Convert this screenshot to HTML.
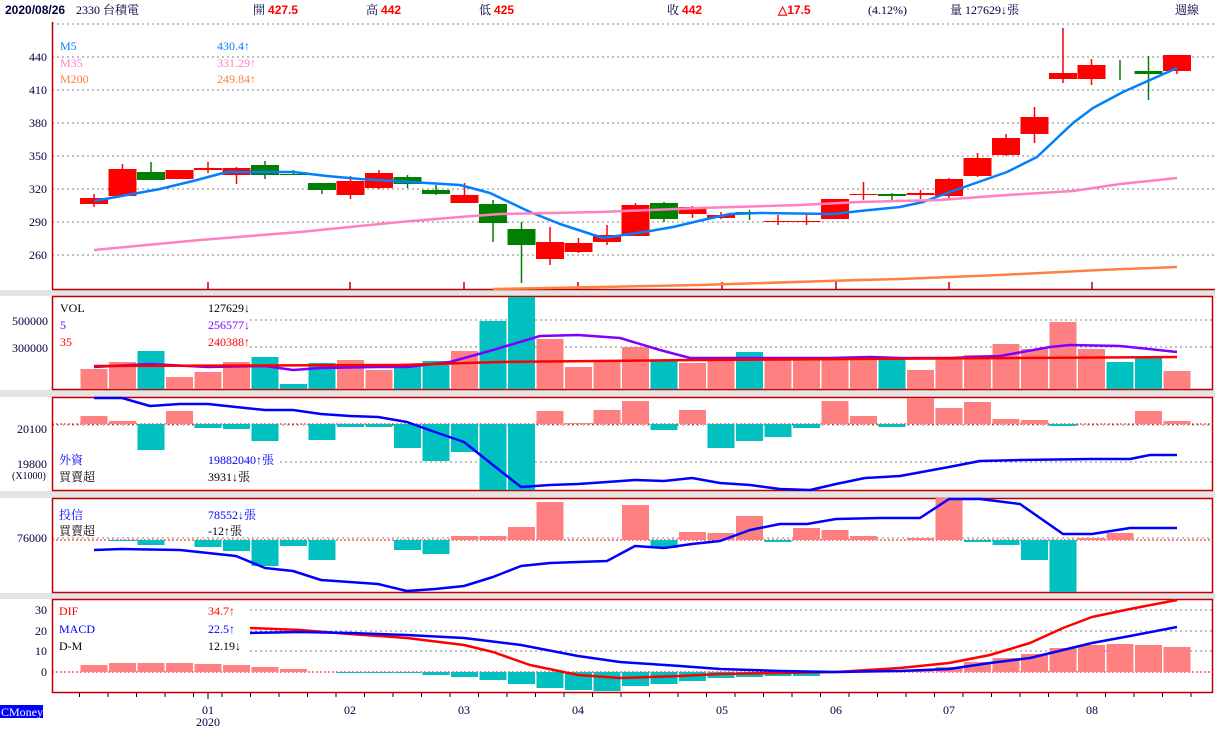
<!DOCTYPE html>
<html><head><meta charset="utf-8"><style>
html,body{margin:0;padding:0;background:#fff;}
svg{display:block;font-family:"Liberation Serif","Noto Serif CJK SC","Noto Sans CJK TC",serif;}
.t{font-size:12px;}
</style></head><body>
<svg id="s" width="1215" height="730" viewBox="0 0 1215 730" xmlns="http://www.w3.org/2000/svg">
<rect width="1215" height="730" fill="#fff"/>
<g id="bg"></g>
<g id="g"></g>
<g class="t">
<text x="5" y="14" font-weight="bold" fill="#000040" font-family="Liberation Sans, sans-serif">2020/08/26</text>
<text x="76" y="14" fill="#000040">2330 台積電</text>
<text x="253" y="14" fill="#000040">開 <tspan fill="#f00" font-weight="bold" font-family="Liberation Sans,sans-serif">427.5</tspan></text>
<text x="366" y="14" fill="#000040">高 <tspan fill="#f00" font-weight="bold" font-family="Liberation Sans,sans-serif">442</tspan></text>
<text x="479" y="14" fill="#000040">低 <tspan fill="#f00" font-weight="bold" font-family="Liberation Sans,sans-serif">425</tspan></text>
<text x="667" y="14" fill="#000040">收 <tspan fill="#f00" font-weight="bold" font-family="Liberation Sans,sans-serif">442</tspan></text>
<text x="778" y="14" fill="#f00" font-weight="bold" font-family="Liberation Sans,sans-serif">△17.5</text>
<text x="868" y="14" fill="#000040">(4.12%)</text>
<text x="950" y="14" fill="#000040">量 127629↓張</text>
<text x="1175" y="14" fill="#000040">週線</text>

<g text-anchor="end" fill="#000040">
<text x="47" y="61">440</text><text x="47" y="94">410</text><text x="47" y="127">380</text><text x="47" y="160">350</text><text x="47" y="193">320</text><text x="47" y="226">290</text><text x="47" y="259">260</text>
<text x="48" y="325">500000</text><text x="48" y="352">300000</text>
<text x="47" y="433">20100</text><text x="47" y="468">19800</text>
<text x="47" y="542">76000</text>
<text x="47" y="614">30</text><text x="47" y="635">20</text><text x="47" y="655">10</text><text x="47" y="676">0</text>
</g>
<text x="12" y="479" font-size="10" fill="#000040">(X1000)</text>

<text x="60" y="50" fill="#0080ff">M5</text><text x="217" y="50" fill="#0080ff">430.4↑</text>
<text x="60" y="67" fill="#ff80c0">M35</text><text x="217" y="67" fill="#ff80c0">331.29↑</text>
<text x="60" y="83" fill="#ff8040">M200</text><text x="217" y="83" fill="#ff8040">249.84↑</text>

<text x="60" y="312" fill="#000">VOL</text><text x="208" y="312" fill="#000">127629↓</text>
<text x="60" y="329" fill="#8000ff">5</text><text x="208" y="329" fill="#8000ff">256577↓</text>
<text x="60" y="346" fill="#f00">35</text><text x="208" y="346" fill="#f00">240388↑</text>

<text x="59" y="464" fill="#00f">外資</text><text x="208" y="464" fill="#00f">19882040↑張</text>
<text x="59" y="481" fill="#000">買賣超</text><text x="208" y="481" fill="#000">3931↓張</text>

<text x="59" y="519" fill="#00f">投信</text><text x="208" y="519" fill="#00f">78552↓張</text>
<text x="59" y="535" fill="#000">買賣超</text><text x="208" y="535" fill="#000">-12↑張</text>

<text x="59" y="615" fill="#f00">DIF</text><text x="208" y="615" fill="#f00">34.7↑</text>
<text x="59" y="633" fill="#00f">MACD</text><text x="208" y="633" fill="#00f">22.5↑</text>
<text x="59" y="650" fill="#000">D-M</text><text x="208" y="650" fill="#000">12.19↓</text>

<rect x="0" y="705" width="43" height="13" fill="#00f"/>
<text x="1" y="716" fill="#fff">CMoney</text>
<g text-anchor="middle" fill="#000040">
<text x="208" y="714">01</text><text x="208" y="726">2020</text>
<text x="350" y="714">02</text><text x="464" y="714">03</text><text x="578" y="714">04</text>
<text x="722" y="714">05</text><text x="836" y="714">06</text><text x="949" y="714">07</text><text x="1092" y="714">08</text>
</g>
</g>
</svg>
<script>
const NS="http://www.w3.org/2000/svg";
const G=document.getElementById('g'),B=document.getElementById('bg');
function el(p,t,a){const e=document.createElementNS(NS,t);for(const k in a)e.setAttribute(k,a[k]);p.appendChild(e);return e;}
function line(p,x1,y1,x2,y2,c,w,d){const a={x1,y1,x2,y2,stroke:c,'stroke-width':w||1};if(d)a['stroke-dasharray']=d;el(p,'line',a);}
function rect(p,x,y,w,h,c){el(p,'rect',{x,y,width:w,height:Math.max(h,1),fill:c});}
function poly(pts,c,w){el(G,'polyline',{points:pts.map(p=>p.join(',')).join(' '),fill:'none',stroke:c,'stroke-width':w||2.5,'stroke-linejoin':'round'});}
// separators
[[290,6],[390,7],[491,7],[593,6]].forEach(([y,h])=>rect(B,0,y,1215,h,'#e4e4e4'));
// grids
[24,57,90,123,156,189,222,255].forEach(y=>line(B,52,y,1215,y,'#808080',1,'2,3'));
[320,347].forEach(y=>line(B,250,y,1213,y,'#808080',1,'2,3'));
line(B,52,425,1213,425,'#808080',1,'2,3');line(B,280,462,1213,462,'#808080',1,'2,3');
line(B,52,538,1213,538,'#808080',1,'2,3');
[610,631,651].forEach(y=>line(B,250,y,1213,y,'#808080',1,'2,3'));
// borders
line(B,52.5,22,52.5,289,'#c00000',1.5);line(B,52,289.5,1215,289.5,'#c00000',1.5);
[[296,389],[397,490],[498,592],[599,692]].forEach(([a,b])=>el(B,'rect',{x:52.5,y:a+.5,width:1160,height:b-a,fill:'none',stroke:'#c00000','stroke-width':1.5}));
[208,350,464,578,722,836,949,1092].forEach(x=>line(B,x,282,x,289,'#c00000',1.5));
for(let i=-1;i<40;i++){const x=94+28.5*i+14;if(x>60&&x<1210)line(B,x,693,x,697,'#000040',1);}
line(B,208,693,208,699,'#000040',1);
const X=i=>94+28.5*i;
// candles [top,bot,wt,wb,c]
const C=[[198,204,194,207,'r'],[169,196,164,196,'r'],[172,180,162,180,'g'],[170,179,170,179,'r'],[168,170,162,173,'r'],[168,175,167,184,'r'],[165,175,161,179,'g'],[174,175,170,175,'g'],[183,190,183,194,'g'],[181,195,176,199,'r'],[173,188,170,189,'r'],[177,184,175,188,'g'],[190,194,185,195,'g'],[195,203,183,203,'r'],[204,223,200,242,'g'],[229,245,222,283,'g'],[242,259,227,265,'r'],[243,252,238,253,'r'],[235,242,225,245,'r'],[205,236,203,236,'r'],[203,219,202,222,'g'],[207,214,206,218,'r'],[215,218,212,219,'r'],[212,213,210,220,'g'],[221,222,215,225,'r'],[221,222,215,225,'r'],[199,219,199,219,'r'],[194,195,182,200,'r'],[194,196,193,200,'g'],[193,195,190,199,'r'],[179,196,178,200,'r'],[158,176,153,177,'r'],[138,155,134,156,'r'],[117,134,107,143,'r'],[73,79,28,83,'r'],[65,79,59,85,'r'],[60,61,60,80,'n'],[71,74,56,100,'g'],[55,71,55,74,'r']];
C.forEach((c,i)=>{const x=X(i),col=c[4]=='g'?'#008000':'#ff0000';
 line(G,x,c[2],x,c[3],c[4]=='n'?'#008000':col,1.5);
 if(c[4]!='n')rect(G,x-14,c[0],28,c[1]-c[0],col);});
poly([[94,201],[127,195],[160,189],[193,181],[227,172],[260,172],[293,172],[327,176],[360,179],[393,181],[427,183],[460,185],[490,193],[530,212],[560,224],[603,238],[650,231],[673,227],[707,219],[730,214],[760,213],[833,214],[860,211],[900,207],[923,202],[950,192],[1007,172],[1037,157],[1073,123],[1093,108],[1123,92],[1150,80],[1177,68]],'#0080ff');
poly([[94,250],[200,240],[300,232],[400,222],[460,217],[500,214],[600,212],[700,208],[800,205],[860,202],[940,200],[1007,195],[1073,191],[1120,184],[1177,178]],'#ff80c0');
poly([[493,289],[600,287],[700,285],[860,280],[900,279],[1000,275],[1100,270],[1177,267]],'#ff8040');
// volume
const V=[369,362,351,377,372,362,357,384,363,360,370,364,361,351,321,297,339,367,362,347,361,363,360,352,360,360,360,359,359,370,357,355,344,349,322,349,362,357,371];
V.forEach((t,i)=>rect(G,X(i)-13.5,t,27,389-t,C[i][4]=='g'||C[i][4]=='n'?'#00c0c0':'#ff8080'));
poly([[94,367],[150,364],[208,367],[265,366],[293,370],[321,368],[378,367],[407,367],[450,362],[493,350],[540,336],[578,335],[620,338],[660,350],[690,358],[750,358],[830,358],[870,357],[900,358],[950,358],[1000,356],[1050,347],[1070,345],[1120,346],[1177,352]],'#8000ff');
poly([[94,366],[400,365],[500,362],[700,360],[1177,357]],'#ff0000');
// foreign
line(G,52,424,1213,424,'#ff0000',1,'2,2');
const F=[416,421,450,411,428,429,441,424,440,427,427,448,461,452,490,490,411,423,410,401,430,410,448,441,437,428,401,416,427,398,408,402,419,420,426,424,424,411,421];
F.forEach((t,i)=>{if(t<424)rect(G,X(i)-13.5,t,27,424-t,'#ff8080');else if(t>424)rect(G,X(i)-13.5,424,27,t-424,'#00c0c0');});
poly([[94,398],[122,398],[150,406],[180,404],[208,404],[236,407],[265,410],[293,410],[321,414],[350,416],[378,417],[407,422],[435,432],[464,442],[493,465],[521,487],[550,485],[578,484],[607,482],[635,480],[664,481],[692,478],[720,483],[750,485],[780,489],[810,490],[836,484],[865,478],[900,476],[949,467],[980,461],[1020,460],[1092,459],[1130,459],[1150,455],[1177,455]],'#0000ff');
// trust
line(G,52,540,1213,540,'#ff0000',1,'2,2');
const T=[540,541,545,540,547,551,566,546,560,540,540,550,554,536,536,527,502,540,540,505,548,532,533,516,542,528,530,536,540,538,498,542,545,560,592,538,533,540,540];
T.forEach((t,i)=>{if(t<540)rect(G,X(i)-13.5,t,27,540-t,'#ff8080');else if(t>540)rect(G,X(i)-13.5,540,27,t-540,'#00c0c0');});
poly([[94,550],[122,549],[180,550],[236,556],[265,568],[293,571],[321,580],[378,584],[407,591],[435,589],[464,586],[493,577],[521,566],[550,563],[578,562],[607,561],[635,546],[664,548],[692,544],[720,541],[750,530],[780,524],[807,524],[836,519],[880,518],[920,518],[949,499],[980,499],[1020,504],[1063,534],[1092,534],[1130,528],[1177,528]],'#0000ff');
// macd
line(G,52,672,1213,672,'#ff0000',1,'2,2');
const M=[665,663,663,663,664,665,667,669,672,673,673,673,675,677,680,684,688,690,691,686,684,681,678,677,676,676,673,672,671,670,667,662,658,654,648,645,644,645,647];
M.forEach((t,i)=>{if(t<672)rect(G,X(i)-13.5,t,27,672-t,'#ff8080');else if(t>672)rect(G,X(i)-13.5,672,27,t-672,'#00c0c0');});
poly([[250,628],[300,630],[350,634],[407,638],[464,645],[493,652],[530,665],[578,675],[620,678],[680,676],[720,674],[780,673],[836,672],[900,668],[949,663],[990,655],[1030,643],[1063,628],[1092,617],[1130,609],[1177,600]],'#ff0000');
poly([[250,633],[300,632],[350,633],[407,635],[464,638],[521,645],[578,656],[620,662],[680,666],[720,669],[780,671],[836,672],[900,671],[949,669],[990,663],[1030,658],[1063,650],[1092,643],[1130,636],[1177,627]],'#0000ff');
</script>
</body></html>
